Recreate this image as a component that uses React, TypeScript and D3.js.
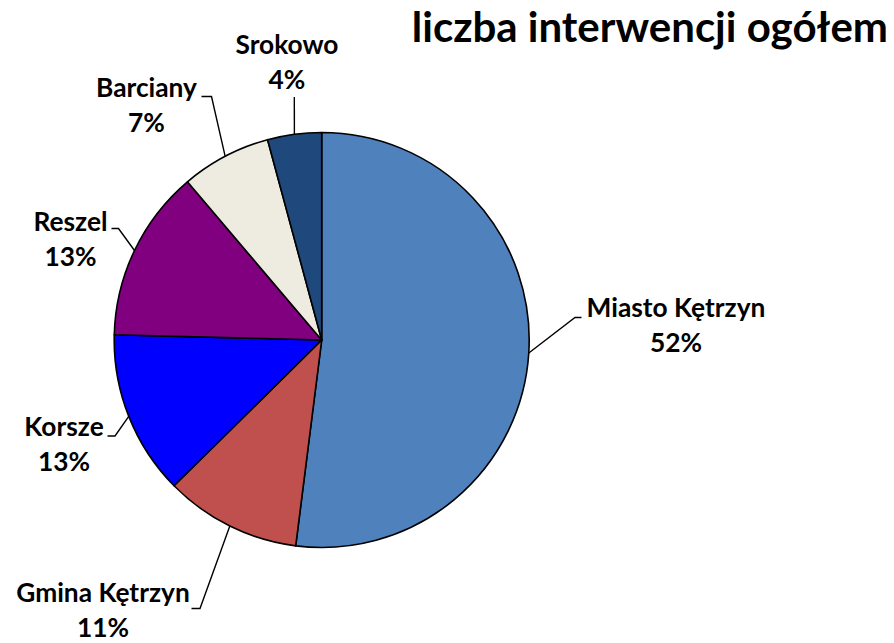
import React from "react";
import * as d3 from "d3";

const categories = ["Miasto Kętrzyn", "Gmina Kętrzyn", "Korsze", "Reszel", "Barciany", "Srokowo"];
const shares = [52.0, 10.6, 12.8, 13.4, 7.0, 4.2];
const colors = ["#4F81BD", "#C0504D", "#0000FF", "#800080", "#EEECE1", "#1F497D"];
const title = "liczba interwencji ogółem";

// label layout: elbow point, end point, text centre x, first baseline y
const labelLayout = [
  { ex: 575, ey: 317.5, tx: 581.5, cx: 676, by: 317 },
  { ex: 200, ey: 608.5, tx: 191.5, cx: 103, by: 602 },
  { ex: 115, ey: 436, tx: 107.5, cx: 64, by: 436 },
  { ex: 118.5, ey: 228.5, tx: 111.5, cx: 70.5, by: 231 },
  { ex: 211.5, ey: 96.5, tx: 201.5, cx: 146.5, by: 97 },
  { ex: 294.3, ey: 97, tx: 294.3, cx: 287, by: 54 },
];

const W = 894;
const H = 643;
const CX = 321.7;
const CY = 340;
const R = 207.5;
const FONT = "Lato, 'Open Sans', sans-serif";
const LABEL_SIZE = 26.3;

export default function App() {
  const pie = d3.pie<number>().sort(null).value((d) => d);
  const arcs = pie(shares);
  const arcGen = d3.arc<d3.PieArcDatum<number>>().innerRadius(0).outerRadius(R);
  const edge = d3.arc<d3.PieArcDatum<number>>().innerRadius(R).outerRadius(R);
  const total = d3.sum(shares);

  return (
    <svg
      width={W}
      height={H}
      style={{ position: "absolute", left: 0, top: 0, background: "#fff" }}
    >
      <text
        x={888}
        y={42}
        textAnchor="end"
        fontFamily={FONT}
        fontWeight="bold"
        fontSize={42}
        fill="#000"
      >
        {title}
      </text>
      <g transform={`translate(${CX},${CY})`}>
        {arcs.map((a, i) => (
          <path key={i} d={arcGen(a) || ""} fill={colors[i]} stroke="#000" strokeWidth={1.6} strokeLinejoin="round" />
        ))}
      </g>
      {arcs.map((a, i) => {
        const [px, py] = edge.centroid(a);
        const L = labelLayout[i];
        const pct = Math.round((shares[i] / total) * 100) + "%";
        return (
          <g key={i}>
            <polyline
              points={`${CX + px},${CY + py} ${L.ex},${L.ey} ${L.tx},${L.ey}`}
              fill="none"
              stroke="#000"
              strokeWidth={1.4}
            />
            <text x={L.cx} y={L.by} textAnchor="middle" fontFamily={FONT} fontWeight="bold" fontSize={LABEL_SIZE} fill="#000">
              {categories[i]}
            </text>
            <text x={L.cx} y={L.by + 35} textAnchor="middle" fontFamily={FONT} fontWeight="bold" fontSize={LABEL_SIZE} fill="#000">
              {pct}
            </text>
          </g>
        );
      })}
    </svg>
  );
}
